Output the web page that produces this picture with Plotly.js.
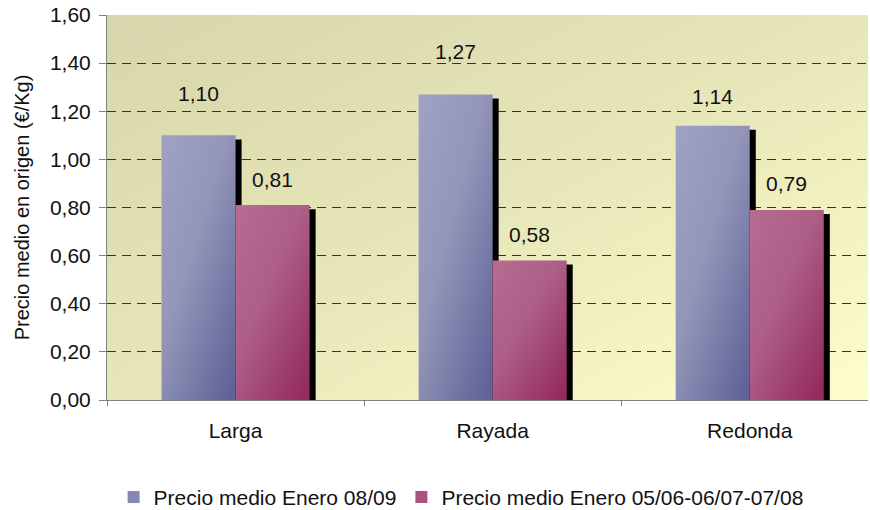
<!DOCTYPE html>
<html>
<head>
<meta charset="utf-8">
<script src="https://cdn.plot.ly/plotly-3.0.1.min.js"></script>
<style>
  html, body { margin: 0; padding: 0; background: #fff; }
  #chart { width: 870px; height: 510px; }
</style>
</head>
<body>
<div id="chart"></div>
<script>
// ---- data ----
const categories = ['Larga', 'Rayada', 'Redonda'];
const seriesNames = ['Precio medio Enero 08/09', 'Precio medio Enero 05/06-06/07-07/08'];
const precio0809 = [1.10, 1.27, 1.14];
const precioMedia = [0.81, 0.58, 0.79];
const yTicks = [0, 0.2, 0.4, 0.6, 0.8, 1.0, 1.2, 1.4, 1.6];

// ---- style ----
const barW = 0.288;
const shadowDX = 0.0235;
const shadowDY = 0.017;
const blueSolid = '#8588b2';
const pinkSolid = '#a9547f';
const labelLift = [[42, 43, 29], [26, 26, 26]];
const font = 'Liberation Sans, Arial, sans-serif';

function fmt(v) { return v.toFixed(2).replace('.', ','); }

const traces = [];
// shadows
[precio0809, precioMedia].forEach((vals, i) => {
  traces.push({
    type: 'bar', x: categories, y: vals.map(v => v - shadowDY),
    width: barW, offset: (i === 0 ? -barW : 0) + shadowDX,
    marker: { color: '#000', line: { width: 0 } },
    showlegend: false, hoverinfo: 'skip'
  });
});
// main bars
[precio0809, precioMedia].forEach((vals, i) => {
  traces.push({
    type: 'bar', x: categories, y: vals, name: seriesNames[i],
    width: barW, offset: i === 0 ? -barW : 0,
    marker: { color: i === 0 ? blueSolid : pinkSolid, line: { width: 0 } }
  });
});

const annotations = [];
[precio0809, precioMedia].forEach((vals, i) => {
  vals.forEach((v, j) => {
    annotations.push({
      x: categories[j], y: v, xref: 'x', yref: 'y',
      xshift: (i === 0 ? -1 : 1) * 37,
      yshift: labelLift[i][j],
      text: fmt(v), showarrow: false,
      yanchor: 'middle', xanchor: 'center',
      font: { family: font, size: 21, color: '#111' }
    });
  });
});

const layout = {
  width: 870, height: 510,
  margin: { l: 107, r: 2, t: 15, b: 110, autoexpand: false },
  paper_bgcolor: '#ffffff',
  plot_bgcolor: '#e6e4b8',
  barmode: 'overlay',
  separators: ',.',
  font: { family: font, size: 21, color: '#111' },
  showlegend: true,
  legend: {
    orientation: 'h', xref: 'container', yref: 'container',
    x: 0.53, xanchor: 'center', y: 0.025, yanchor: 'middle',
    font: { family: font, size: 21, color: '#111' },
    itemwidth: 30, traceorder: 'normal', bgcolor: 'rgba(0,0,0,0)'
  },
  xaxis: {
    type: 'category', range: [-0.5, 2.46], automargin: false,
    showline: true, linecolor: '#808080', linewidth: 1,
    ticks: 'outside', tickson: 'boundaries', ticklen: 5, tickcolor: '#808080',
    showgrid: false, zeroline: false,
    ticklabelstandoff: 12,
    tickfont: { family: font, size: 21, color: '#111' }
  },
  yaxis: {
    range: [0, 1.6], tickvals: yTicks, ticktext: yTicks.map(fmt), automargin: false,
    showline: true, linecolor: '#808080', linewidth: 1,
    ticks: 'outside', ticklen: 7, tickcolor: '#808080',
    showgrid: true, gridcolor: '#333', griddash: '9px,6px', gridwidth: 1,
    zeroline: true, zerolinecolor: '#808080',
    ticklabelstandoff: 4,
    tickfont: { family: font, size: 21, color: '#111' },
    title: { text: 'Precio medio en origen (€/Kg)', standoff: 14,
             font: { family: font, size: 20, color: '#111' } }
  },
  annotations: annotations
};

const gd = document.getElementById('chart');
Plotly.newPlot(gd, traces, layout, { displayModeBar: false, staticPlot: true }).then(() => {
  const svg = gd.querySelector('svg.main-svg');
  const ns = 'http://www.w3.org/2000/svg';
  let defs = svg.querySelector('defs');
  if (!defs) { defs = document.createElementNS(ns, 'defs'); svg.insertBefore(defs, svg.firstChild); }
  function grad(id, stops, x2, y2) {
    const g = document.createElementNS(ns, 'linearGradient');
    g.setAttribute('id', id);
    g.setAttribute('x1', '0'); g.setAttribute('y1', '0');
    g.setAttribute('x2', x2); g.setAttribute('y2', y2);
    stops.forEach(([o, c]) => {
      const s = document.createElementNS(ns, 'stop');
      s.setAttribute('offset', o); s.setAttribute('stop-color', c);
      g.appendChild(s);
    });
    defs.appendChild(g);
  }
  grad('bgGrad', [['0', '#d7d6ac'], ['0.5', '#e7e6b8'], ['1', '#fefdcc']], '1', '1');
  grad('blueGrad', [['0', '#a0a2c4'], ['0.45', '#9396b8'], ['1', '#5f6398']], '0.9', '1');
  grad('pinkGrad', [['0', '#b86c92'], ['0.45', '#ad5f87'], ['1', '#942b5f']], '0.9', '1');
  const bg = svg.querySelector('.bglayer .bg') || svg.querySelector('rect.bg');
  if (bg) bg.style.fill = 'url(#bgGrad)';
  const barTraces = svg.querySelectorAll('.barlayer .trace');
  if (barTraces[2]) barTraces[2].querySelectorAll('path').forEach(p => p.style.fill = 'url(#blueGrad)');
  if (barTraces[3]) barTraces[3].querySelectorAll('path').forEach(p => p.style.fill = 'url(#pinkGrad)');
});
</script>
</body>
</html>
